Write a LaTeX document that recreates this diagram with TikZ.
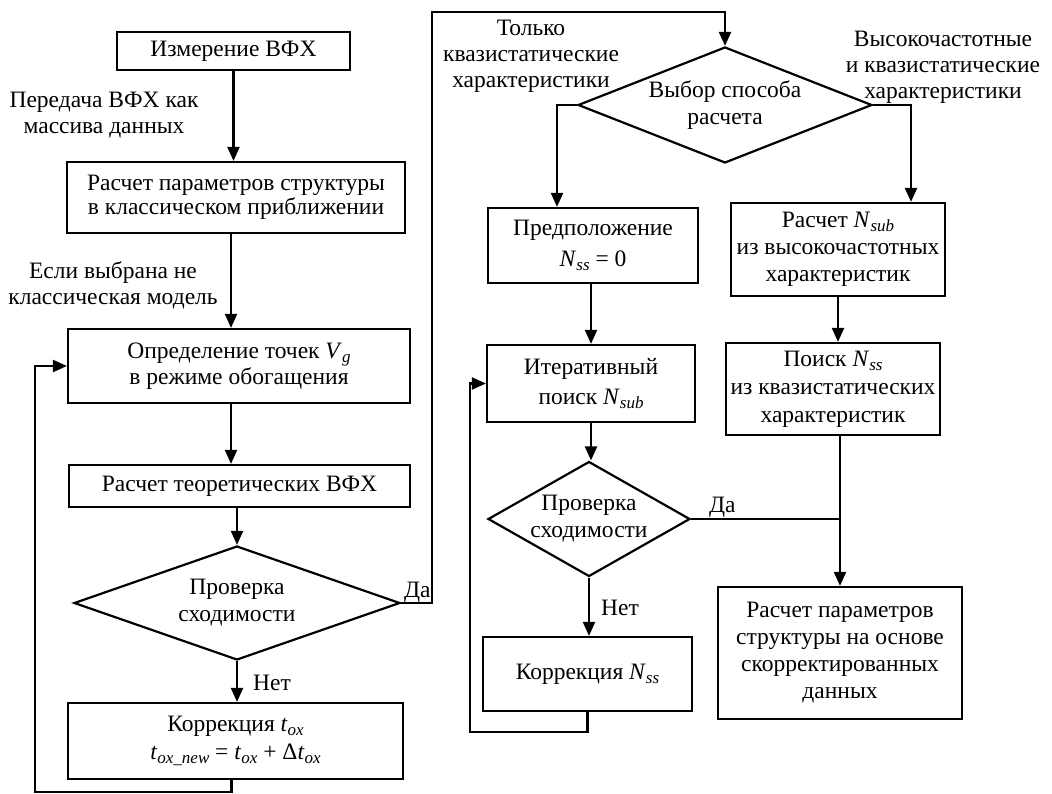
\documentclass[tikz,border=0pt]{standalone}
\usepackage{fontspec}
\setmainfont{Liberation Serif}
\usetikzlibrary{arrows.meta,shapes.geometric}
\newcommand{\mysub}[1]{\raisebox{-0.38ex}{\fontsize{17}{17}\selectfont\itshape #1}}
\begin{document}
\begin{tikzpicture}[x=1pt,y=-1pt,line width=2.2pt,
  font=\fontsize{23.5}{26}\selectfont,
  box/.style={draw,rectangle,inner sep=2pt,align=center},
  dia/.style={draw,diamond,inner sep=0pt,align=center},
  arr/.style={-{Triangle[length=14pt,width=12pt]}},
  lbl/.style={align=center,inner sep=0pt}]
\useasboundingbox (0,0) rectangle (1052,794);
% left column
\node[box,minimum width=233pt,minimum height=38pt] (B1) at (233.5,51) {Измерение ВФХ};
\node[box,minimum width=338pt,minimum height=71pt,font=\fontsize{23.5}{24}\selectfont] (B2) at (236,197.5) {Расчет параметров структуры\\в классическом приближении};
\node[box,minimum width=342pt,minimum height=74pt,font=\fontsize{23.5}{19}\selectfont] (B3) at (239,366) {Определение точек \textit{V}\mysub{g}\\в режиме обогащения};
\node[box,minimum width=341pt,minimum height=42pt] (B4) at (239.5,486) {Расчет теоретических ВФХ};
\node[dia,aspect=2.86,minimum width=326pt,minimum height=114pt,font=\fontsize{23.5}{27}\selectfont] (D1) at (237,603) {Проверка\\сходимости};
\node[box,minimum width=335pt,minimum height=76pt,font=\fontsize{23.5}{28}\selectfont] (B5) at (235.5,741) {Коррекция \textit{t}\mysub{ox}\\\textit{t}\mysub{ox\_new} = \textit{t}\mysub{ox} + Δ\textit{t}\mysub{ox}};
\node[lbl] (L1) at (104,115) {Передача ВФХ как\\массива данных};
\node[lbl] (L2) at (113,285) {Если выбрана не\\классическая модель};
\node[lbl,anchor=base west] (Da1) at (403,597) {Да};
\node[lbl,anchor=base west] (Net1) at (252,690) {Нет};
% middle column
\node[dia,aspect=2.53,minimum width=294pt,minimum height=116pt,font=\fontsize{23.5}{27}\selectfont] (D2) at (725,105) {Выбор способа\\расчета};
\node[lbl] (L3) at (531,56) {Только\\квазистатические\\характеристики};
\node[lbl] (L4) at (943,67) {Высокочастотные\\и квазистатические\\характеристики};
\node[box,minimum width=210pt,minimum height=75pt,font=\fontsize{23.5}{31}\selectfont] (P) at (593,245.5) {Предположение\\\textit{N}\mysub{ss} = 0};
\node[box,minimum width=208pt,minimum height=77pt,font=\fontsize{23.5}{30}\selectfont] (I) at (591,383.5) {Итеративный\\поиск \textit{N}\mysub{sub}};
\node[dia,aspect=1.76,minimum width=202pt,minimum height=115pt,font=\fontsize{23.5}{27}\selectfont] (D3) at (589,519) {Проверка\\сходимости};
\node[box,minimum width=209pt,minimum height=74pt] (K) at (587.5,674) {Коррекция \textit{N}\mysub{ss}};
\node[lbl,anchor=base west] (Da2) at (708,512) {Да};
\node[lbl,anchor=base west] (Net2) at (600,615) {Нет};
% right column
\node[box,minimum width=214pt,minimum height=93pt,font=\fontsize{23.5}{27}\selectfont] (R1) at (838,249.5) {Расчет \textit{N}\mysub{sub}\\из высокочастотных\\характеристик};
\node[box,minimum width=214pt,minimum height=92pt,font=\fontsize{23.5}{28}\selectfont] (R2) at (833,389) {Поиск \textit{N}\mysub{ss}\\из квазистатических\\характеристик};
\node[box,minimum width=244pt,minimum height=132pt,font=\fontsize{23.5}{27}\selectfont] (F) at (840,653) {Расчет параметров\\структуры на основе\\скорректированных\\данных};
% coordinates
\coordinate (c1) at (432,12);
\coordinate (fbL) at (35,792);
\coordinate (pl) at (557,105);
\coordinate (pr) at (911,105);
\coordinate (fbM) at (470,732);
% connectors left
\draw[arr] (B1.south) -- (B1.south |- B2.north);
\draw[arr] ([xshift=-5pt]B2.south) -- ([xshift=-5pt]B2.south |- B3.north);
\draw[arr] ([xshift=-8pt]B3.south) -- ([xshift=-8pt]B3.south |- B4.north);
\draw[arr] (B4.south -| D1.north) -- (D1.north);
\draw[arr] (D1.south) -- (D1.south |- B5.north);
\draw[arr] ([xshift=-4pt]B5.south) |- (fbL) |- (B3.west);
\draw[arr] (D1.east) -| (c1) -| (D2.north);
% connectors middle
\draw[arr] (D2.west) -- (pl) -- (pl |- P.north);
\draw[arr] (D2.east) -- (pr) -- (pr |- R1.north);
\draw[arr] (P.south -| I.north) -- (I.north);
\draw[arr] (I.south) -- (I.south |- D3.north);
\draw[arr] (D3.south) -- (D3.south |- K.north);
\draw[arr] (K.south) |- (fbM) |- (I.west);
% connectors right
\draw[arr] (R1.south) -- (R1.south |- R2.north);
\draw[arr] (R2.south -| F.north) -- (F.north);
\draw (D3.east) -- (D3.east -| F.north);
\end{tikzpicture}
\end{document}
